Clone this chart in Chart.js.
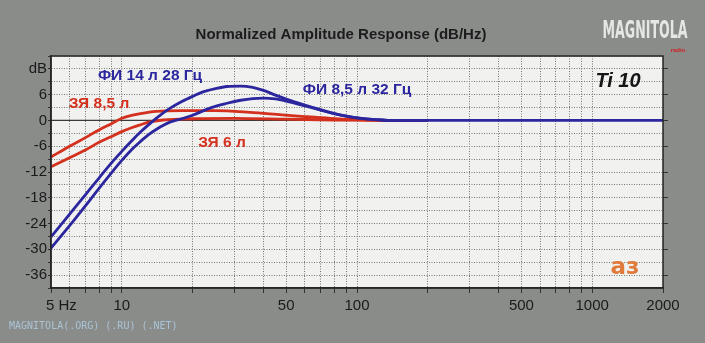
<!DOCTYPE html>
<html>
<head>
<meta charset="utf-8">
<script src="https://cdn.jsdelivr.net/npm/chart.js@4.4.0/dist/chart.umd.min.js"></script>
<style>
  body { margin: 0; background: #8a8c8a; }
  #wrap { width: 705px; height: 343px; }
</style>
</head>
<body>
<div id="wrap"><canvas id="chart"></canvas></div>
<script>
// frequency ticks (Hz) and the ones that get a label
const freqTicks = [5, 6, 7, 8, 9, 10, 20, 30, 40, 50, 60, 70, 80, 90, 100,
    200, 300, 400, 500, 600, 700, 800, 900, 1000, 2000];
const freqLabels = { 5: '     5 Hz', 10: '10', 50: '50', 100: '100', 500: '500', 1000: '1000', 2000: '2000' };
const dbLabels = { 12: 'dB', 6: '6', 0: '0', '-6': '-6', '-12': '-12', '-18': '-18', '-24': '-24', '-30': '-30', '-36': '-36' };

// ЗЯ 8,5 л (closed box)
const cz85Freq = [5, 6, 7, 8, 9, 10, 11, 12, 14, 18, 25, 35, 48, 60, 77, 100, 130, 200];
const cz85Db = [-8.5, -6.0, -4.0, -2.2, -0.8, 0.5, 1.2, 1.6, 2.1, 2.3, 2.3, 1.9, 1.3, 0.9, 0.5, 0.2, 0.0, 0.0];

// ЗЯ 6 л
const cz6Freq = [5, 6, 7, 8, 9, 10, 11, 12, 13, 15, 20, 30, 50, 80, 130, 200];
const cz6Db = [-10.8, -8.7, -6.9, -5.1, -3.8, -2.6, -1.7, -1.0, -0.4, 0.1, 0.4, 0.5, 0.3, 0.1, 0.0, 0.0];

// ФИ 14 л 28 Гц (vented)
const fi14Freq = [5, 6, 7, 8, 9, 10, 11, 12, 13, 14, 16, 18, 20, 22, 25, 28, 32, 36, 40, 45, 50, 60, 70, 80, 90, 100, 120, 150, 200];
const fi14Db = [-27.1, -21.8, -17.3, -13.4, -10.0, -7.2, -4.8, -2.7, -1.0, 0.5, 2.8, 4.4, 5.6, 6.6, 7.4, 7.9, 8.0, 7.7, 7.0, 5.9, 5.0, 3.6, 2.5, 1.6, 1.0, 0.6, 0.2, 0.0, 0.0];

// ФИ 8,5 л 32 Гц
const fi85Freq = [5, 6, 7, 8, 9, 10, 11, 12, 13, 14, 16, 18, 20, 24, 28, 32, 36, 40, 45, 50, 60, 70, 80, 90, 100, 120, 150, 200, 500, 1000, 2000];
const fi85Db = [-29.7, -24.5, -19.9, -15.8, -12.3, -9.3, -6.8, -4.9, -3.3, -2.1, -0.4, 0.4, 1.2, 3.0, 4.0, 4.7, 5.1, 5.2, 5.0, 4.5, 3.4, 2.4, 1.6, 1.0, 0.6, 0.2, 0.0, 0.0, 0.0, 0.0, 0.0];

const RED = 'rgb(212, 48, 30)';
const BLUE = 'rgb(44, 38, 158)';

function pts(f, d) {
    return f.map((v, i) => ({ x: v, y: d[i] }));
}

function line(label, f, d, color) {
    return {
        label: label,
        data: pts(f, d),
        borderColor: color,
        borderWidth: 2.8,
        pointRadius: 0,
        fill: false,
        cubicInterpolationMode: 'monotone'
    };
}

const decor = {
    id: 'decor',
    beforeDraw(chart) {
        const { ctx, chartArea: a } = chart;
        ctx.save();
        ctx.fillStyle = '#8a8c8a';
        ctx.fillRect(0, 0, chart.width, chart.height);
        ctx.fillStyle = '#f1f2f0';
        ctx.fillRect(a.left, a.top, a.right - a.left, a.bottom - a.top);
        ctx.restore();
    },
    beforeDatasetsDraw(chart) {
        const { ctx, chartArea: a, scales } = chart;
        const y0 = scales.y.getPixelForValue(0);
        ctx.save();
        ctx.strokeStyle = '#3a3a3a';
        ctx.lineWidth = 1.3;
        ctx.beginPath();
        ctx.moveTo(a.left, y0);
        ctx.lineTo(a.right, y0);
        ctx.stroke();
        ctx.restore();
    },
    afterDraw(chart) {
        const { ctx, chartArea: a } = chart;
        ctx.save();
        ctx.strokeStyle = '#262626';
        ctx.lineWidth = 1.5;
        ctx.strokeRect(a.left, a.top, a.right - a.left, a.bottom - a.top);

        ctx.textAlign = 'center';
        ctx.textBaseline = 'middle';

        ctx.fillStyle = '#1c1c1c';
        ctx.font = 'bold 15px "Liberation Sans", Arial, sans-serif';
        ctx.fillText('Normalized Amplitude Response (dB/Hz)', 341, 35, 302);

        ctx.fillStyle = '#e4e8e4';
        ctx.font = 'bold 24px "Liberation Sans Narrow", "DejaVu Sans Condensed", sans-serif';
        ctx.fillText('MAGNITOLA', 645, 32, 85);
        ctx.fillStyle = '#d02020';
        ctx.font = 'bold 6px "Liberation Sans", sans-serif';
        ctx.fillText('radio', 678, 50);

        ctx.font = 'bold 15.5px "Liberation Sans", Arial, sans-serif';
        ctx.fillStyle = BLUE;
        ctx.fillText('ФИ 14 л 28 Гц', 150, 76);
        ctx.fillText('ФИ 8,5 л 32 Гц', 357, 90);
        ctx.fillStyle = RED;
        ctx.fillText('ЗЯ 8,5 л', 99, 104);
        ctx.fillText('ЗЯ 6 л', 222, 143);

        ctx.fillStyle = '#151515';
        ctx.font = 'italic bold 20px "Liberation Sans", Arial, sans-serif';
        ctx.fillText('Ti 10', 618, 81);

        ctx.fillStyle = '#e07a3a';
        ctx.font = 'bold 23px "DejaVu Sans", sans-serif';
        ctx.fillText('аз', 625, 268);

        ctx.fillStyle = '#a9c3d6';
        ctx.font = '10px "DejaVu Sans Mono", monospace';
        ctx.textAlign = 'left';
        ctx.fillText('MAGNITOLA(.ORG) (.RU) (.NET)', 9, 326, 170);
        ctx.restore();
    }
};

new Chart(document.getElementById('chart'), {
    type: 'line',
    data: {
        datasets: [
            line('ФИ 14 л 28 Гц', fi14Freq, fi14Db, BLUE),
            line('ФИ 8,5 л 32 Гц', fi85Freq, fi85Db, BLUE),
            line('ЗЯ 8,5 л', cz85Freq, cz85Db, RED),
            line('ЗЯ 6 л', cz6Freq, cz6Db, RED)
        ]
    },
    options: {
        responsive: true,
        maintainAspectRatio: false,
        animation: false,
        layout: { padding: { top: 56, left: 0, right: 0, bottom: 0 } },
        plugins: { legend: { display: false }, tooltip: { enabled: false } },
        scales: {
            x: {
                type: 'logarithmic',
                min: 5,
                max: 2000,
                afterBuildTicks: (s) => { s.ticks = freqTicks.map(v => ({ value: v })); },
                afterFit: (s) => { s.height = 55; },
                ticks: {
                    autoSkip: false,
                    maxRotation: 0,
                    padding: 4,
                    color: '#1a1a1a',
                    font: { family: '"Liberation Sans", Arial, sans-serif', size: 15 },
                    callback: (v) => freqLabels[v] ?? ''
                },
                grid: { color: '#777', tickColor: '#333', tickLength: 5, lineWidth: 1 },
                border: { color: '#262626', width: 1.5, dash: [1, 1.5] }
            },
            y: {
                min: -39,
                max: 15,
                afterFit: (s) => { s.width = 51; },
                ticks: {
                    stepSize: 3,
                    autoSkip: false,
                    padding: 1,
                    color: '#1a1a1a',
                    font: { family: '"Liberation Sans", Arial, sans-serif', size: 15 },
                    callback: (v) => dbLabels[Math.round(v)] ?? ''
                },
                grid: {
                    color: (c) => (c.tick && c.tick.value === 0) ? 'rgba(0,0,0,0)' : '#777',
                    tickColor: '#333',
                    tickLength: 3
                },
                border: { color: '#262626', width: 1.5, dash: [1, 1.5] }
            },
            y2: {
                position: 'right',
                min: -39,
                max: 15,
                afterBuildTicks: (s) => { s.ticks = [-36, -30, -24, -18, -12, -6, 0, 6, 12].map(v => ({ value: v })); },
                afterFit: (s) => { s.width = 42; },
                ticks: { display: false },
                grid: { drawOnChartArea: false, tickColor: '#333', tickLength: 5 },
                border: { display: false }
            }
        }
    },
    plugins: [decor]
});
</script>
</body>
</html>
